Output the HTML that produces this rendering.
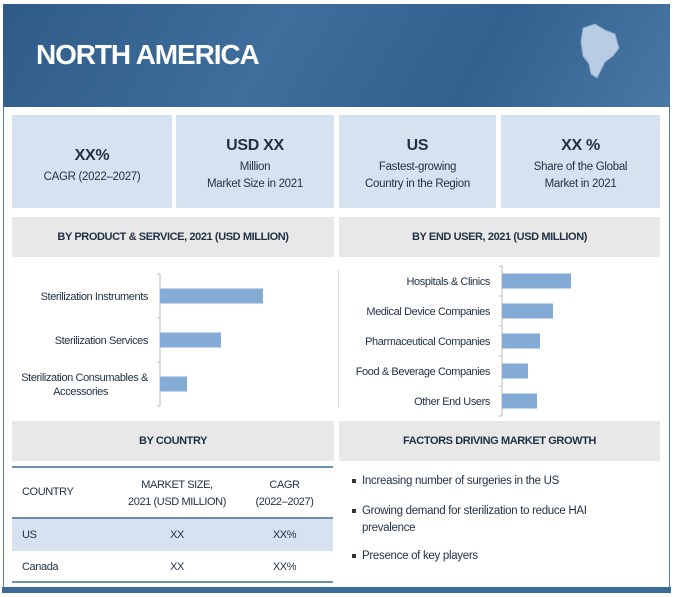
<!DOCTYPE html>
<html><head><meta charset="utf-8"><style>
*{margin:0;padding:0;box-sizing:border-box}
body{width:675px;height:597px;background:#fff;position:relative;overflow:hidden;font-family:"Liberation Sans",sans-serif;color:#1f3044;letter-spacing:-0.3px}
.a{position:absolute}
.card{position:absolute;top:115px;height:93px;background:#d6e2ef;text-align:center;font-size:11.5px;line-height:17px}
.card b{display:block;font-size:16px;font-weight:bold;line-height:22px;margin-bottom:2px}
.gh{position:absolute;background:#e8e8e8;font-size:11px;font-weight:bold;text-align:center;color:#1f3044;letter-spacing:-0.4px}
.bul{position:absolute;left:352px;font-size:11.5px;line-height:17px;width:290px;padding-left:10px}
.bul:before{content:"";position:absolute;left:0;top:6px;width:4px;height:4px;background:#333}
</style></head><body>
<div class="a" style="left:3px;top:4px;width:667px;height:589px;border:1px solid #5a7fa5"></div>
<div class="a" style="left:3px;top:4px;width:667px;height:103px;background:linear-gradient(120deg,#2f5b88 0%,#3f6e9c 40%,#33618f 70%,#4a78a5 100%)"></div>
<div class="a" style="left:36px;top:39px;font-size:28px;font-weight:bold;color:#fff;letter-spacing:-1.1px">NORTH AMERICA</div>
<svg class="a" style="left:575px;top:20px" width="50" height="70"><path d="M8 8 L20 4 L30 10 L40 14 L44 28 L38 36 L30 42 L26 50 L22 58 L16 54 L14 44 L8 36 L6 22 Z" fill="#b8cde4" stroke="#8fa9c8"/></svg>
<div class="card" style="left:12px;width:160px;padding-top:30px"><b>XX%</b>CAGR (2022–2027)</div>
<div class="card" style="left:176px;width:158px;padding-top:20px"><b>USD XX</b>Million<br>Market Size in 2021</div>
<div class="card" style="left:339px;width:157px;padding-top:20px"><b>US</b>Fastest-growing<br>Country in the Region</div>
<div class="card" style="left:501px;width:159px;padding-top:20px"><b>XX %</b>Share of the Global<br>Market in 2021</div>
<div class="gh" style="left:12px;top:217px;width:322px;height:40px;line-height:40px">BY PRODUCT &amp; SERVICE, 2021 (USD MILLION)</div>
<div class="gh" style="left:339px;top:217px;width:321px;height:40px;line-height:40px">BY END USER, 2021 (USD MILLION)</div>
<div class="a" style="left:338px;top:270px;width:1px;height:138px;background:#ddd"></div>
<svg class="a" id="c1" style="left:0;top:260px" width="338" height="155"></svg>
<svg class="a" id="c2" style="left:338px;top:260px" width="337" height="160"></svg>
<div class="gh" style="left:12px;top:421px;width:322px;height:40px;line-height:40px">BY COUNTRY</div>
<div class="gh" style="left:339px;top:421px;width:321px;height:40px;line-height:40px">FACTORS DRIVING MARKET GROWTH</div>
<div class="a" style="left:12px;top:466px;width:321px;height:117px;border-top:2px solid #6d8fb3;border-bottom:2px solid #6d8fb3;font-size:11px;letter-spacing:-0.4px">
 <div class="a" style="left:0;top:0;width:321px;height:51px;border-bottom:2px solid #6d8fb3">
  <div class="a" style="left:10px;top:18px">COUNTRY</div>
  <div class="a" style="left:100px;top:9px;width:130px;text-align:center;line-height:17px;white-space:nowrap">MARKET SIZE,<br>2021 (USD MILLION)</div>
  <div class="a" style="left:230px;top:9px;width:85px;text-align:center;line-height:17px">CAGR<br>(2022–2027)</div></div>
 <div class="a" style="left:0;top:51px;width:321px;height:32px;background:#d6e2ef;line-height:32px">
  <div class="a" style="left:10px">US</div><div class="a" style="left:110px;width:110px;text-align:center">XX</div><div class="a" style="left:230px;width:85px;text-align:center">XX%</div></div>
 <div class="a" style="left:0;top:83px;width:321px;height:32px;line-height:32px">
  <div class="a" style="left:10px">Canada</div><div class="a" style="left:110px;width:110px;text-align:center">XX</div><div class="a" style="left:230px;width:85px;text-align:center">XX%</div></div>
</div>
<div class="bul" style="top:473px">Increasing number of surgeries in the US</div>
<div class="bul" style="top:503px">Growing demand for sterilization to reduce HAI prevalence</div>
<div class="bul" style="top:548px">Presence of key players</div>
<div class="a" style="left:2px;top:587px;width:669px;height:6px;background:#3d6b98"></div>
<script>
const prodCats=["Sterilization Instruments","Sterilization Services","Sterilization Consumables & Accessories"];
const prodVals=[103,61,27];
const userCats=["Hospitals & Clinics","Medical Device Companies","Pharmaceutical Companies","Food & Beverage Companies","Other End Users"];
const userVals=[69,51,38,26,35];
const NS="http://www.w3.org/2000/svg";
function el(svg,t,a){const e=document.createElementNS(NS,t);for(const k in a)e.setAttribute(k,a[k]);svg.appendChild(e);return e;}
function draw(id,cats,vals,ax,y0,y1,bh){
 const svg=document.getElementById(id);const n=cats.length;const step=(y1-y0)/n;
 const x=v=>ax+v;
 const ln=el(svg,"line",{x1:ax,x2:ax,y1:y0,y2:y1,stroke:"#bbb"});
 
 for(let i=0;i<=n;i++){el(svg,"line",{x1:ax-3,x2:ax,y1:y0+i*step,y2:y0+i*step,stroke:"#bbb"});}
 cats.forEach((c,i)=>{
  const cy=y0+step*(i+0.5);
  const r=el(svg,"rect",{x:ax,y:cy-bh/2,width:x(vals[i])-ax,height:bh,fill:"#84abd6"});
  
  
  const words=c.length>30?[c.replace(" Accessories",""),"Accessories"]:[c];
  const t=el(svg,"text",{x:ax-12,y:cy+4-(words.length-1)*7,"text-anchor":"end","font-size":"11","letter-spacing":"-0.4","fill":"#1f3044","font-family":"Liberation Sans, sans-serif"});
  
  
  words.forEach((w,j)=>{const s=el(t,"tspan",{x:j?ax-52:ax-12,dy:j?14:0});s.textContent=w;});
 });
}
draw("c1",prodCats,prodVals,160,14,146,15);
draw("c2",userCats,userVals,164,6,156,15);
</script>
</body></html>
